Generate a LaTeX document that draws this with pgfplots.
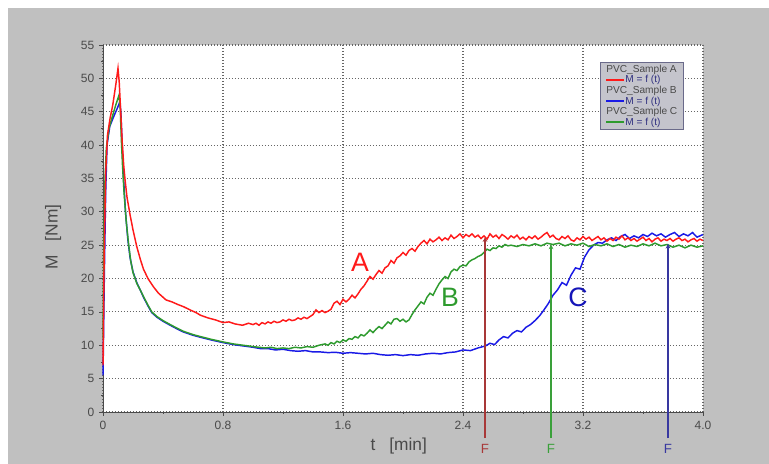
\documentclass[border=0pt]{standalone}
\usepackage{pgfplots}
\pgfplotsset{compat=1.18}
\usepackage{fontspec}
\setmainfont{Liberation Sans}
\usetikzlibrary{arrows.meta}

\definecolor{bggray}{HTML}{C0C0C0}
\definecolor{cA}{HTML}{FF1A1A}
\definecolor{cB}{HTML}{2E9B2E}
\definecolor{cC}{HTML}{1A1AE6}
\definecolor{fA}{HTML}{A83838}
\definecolor{fB}{HTML}{3AA03A}
\definecolor{fC}{HTML}{3838A0}
\definecolor{lbl}{HTML}{4A4A4A}
\definecolor{leggray}{HTML}{C4C4CC}
\definecolor{legborder}{HTML}{6A6A8A}
\definecolor{legblue}{HTML}{303080}

\begin{document}
\begin{tikzpicture}
% 1px = 0.75pt, axis box 600x367 px
\useasboundingbox (-77.25pt,-39pt) rectangle (499.5pt,309pt);
\fill[white] (-77.25pt,-39pt) rectangle (499.5pt,309pt);
\fill[bggray] (-71.25pt,-39pt) rectangle (499.5pt,303pt);
\begin{axis}[
  at={(0,0)}, anchor=south west,
  scale only axis, width=450pt, height=275.25pt,
  xmin=0, xmax=4, ymin=0, ymax=55,
  xtick={0,0.8,1.6,2.4,3.2,4.0}, xticklabels={0,0.8,1.6,2.4,3.2,4.0},
  ytick={0,5,...,55},
  minor x tick num=1, minor y tick num=1,
  axis x line*=bottom, axis y line*=left,
  axis line style={lbl, line width=0.6pt, -},
  grid=major, grid style={black!60, line width=0.85pt, dash pattern=on 0.85pt off 1.4pt},
  tick align=outside, major tick length=3pt, minor tick length=1.5pt,
  tick style={lbl, line width=0.5pt},
  tick label style={font=\fontsize{9}{10}\selectfont, text=lbl},
  /pgf/number format/assume math mode=true,
  axis background/.style={fill=white},
  clip=false,
  xlabel={t\hspace{0.8em}[min]}, ylabel={M\hspace{0.8em}[Nm]},
  label style={font=\fontsize{13}{14}\selectfont, text=lbl},
  xlabel style={at={(axis description cs:0.493,-0.093)}, anchor=center},
  ylabel style={at={(axis description cs:-0.0833,0.477)}, anchor=center},
]
% sample C
\addplot[cC, line width=1.1pt, no marks] coordinates {
(0,5.5) (0.004,12) (0.01,22) (0.018,33) (0.027,40) (0.045,42.8) (0.07,44.2) (0.095,45.5) (0.113,46.5) (0.12,44.5) (0.128,40) (0.137,35) (0.15,30) (0.165,26) (0.18,23.2) (0.2,21) (0.225,19.4) (0.25,18.2) (0.27,17.2) (0.3,15.9) (0.325,14.9) (0.36,14.2) (0.4,13.6) (0.44,13.1) (0.49,12.5) (0.535,12.0) (0.6,11.5) (0.65,11.2) (0.72,10.8) (0.8,10.4) (0.87,10.1) (0.935,9.9) (0.97,9.8)
(1.00,9.7) (1.05,9.5) (1.10,9.5) (1.15,9.3) (1.20,9.4) (1.25,9.2) (1.30,9.1) (1.35,9.2) (1.40,9.0) (1.45,9.0) (1.50,8.9) (1.55,8.95) (1.60,8.8) (1.65,8.9) (1.70,8.8) (1.75,8.7) (1.80,8.8) (1.85,8.6) (1.90,8.5) (1.95,8.6) (2.00,8.45) (2.05,8.6) (2.10,8.5) (2.15,8.7) (2.20,8.8) (2.25,8.7) (2.30,8.9) (2.35,9.0) (2.40,9.3) (2.45,9.2) (2.50,9.6) (2.55,9.9) (2.58,10.3) (2.61,10.1) (2.64,10.8) (2.67,11.3) (2.70,11.1) (2.73,11.8) (2.76,12.2) (2.79,12.0) (2.82,12.7) (2.85,13.1) (2.88,13.7) (2.91,14.4) (2.94,15.3) (2.97,16.3) (3.00,17.5) (3.03,18.3) (3.06,19.4) (3.09,19.0) (3.12,20.5) (3.15,21.6) (3.18,21.4) (3.21,23.2) (3.24,24.3) (3.27,25.0) (3.30,25.4) (3.33,25.3) (3.36,25.8) (3.39,26.1) (3.42,25.7) (3.45,26.3) (3.48,26.6) (3.51,26.0) (3.54,26.4) (3.57,26.1) (3.60,26.6) (3.63,26.3) (3.66,26.8) (3.69,26.4) (3.72,26.7) (3.75,26.2) (3.78,26.6) (3.81,26.9) (3.84,26.3) (3.87,26.7) (3.90,26.4) (3.93,26.9) (3.96,26.2) (4.00,26.6)};
% sample B
\addplot[cB, line width=1.1pt, no marks] coordinates {
(0,11) (0.005,24) (0.012,34) (0.022,39.5) (0.04,42.5) (0.065,44.5) (0.085,46) (0.107,47.5) (0.115,45.5) (0.122,41) (0.13,37) (0.14,33) (0.155,28.5) (0.17,25.3) (0.185,22.6) (0.2,20.9) (0.225,19.3) (0.25,18.2) (0.27,17.3) (0.3,16.0) (0.325,15.0) (0.36,14.3) (0.4,13.7) (0.44,13.2) (0.49,12.6) (0.535,12.1) (0.6,11.6) (0.65,11.3) (0.72,10.9) (0.8,10.5) (0.87,10.2) (0.935,10.0) (0.97,9.9)
(1.00,9.8) (1.04,9.7) (1.08,9.6) (1.12,9.7) (1.16,9.5) (1.20,9.6) (1.24,9.5) (1.28,9.7) (1.32,9.6) (1.36,9.8) (1.40,9.7) (1.44,10.0) (1.48,10.2) (1.50,10.0) (1.52,10.4) (1.54,10.2) (1.56,10.6) (1.58,10.4) (1.60,10.8) (1.62,10.6) (1.64,11.0) (1.66,10.9) (1.68,11.3) (1.70,11.1) (1.72,11.6) (1.74,11.4) (1.76,11.8) (1.78,12.3) (1.80,11.9) (1.82,12.4) (1.84,12.8) (1.86,12.5) (1.88,13.0) (1.90,13.5) (1.92,13.2) (1.94,13.9) (1.96,14.0) (1.98,13.6) (2.00,13.9) (2.02,13.5) (2.04,13.8) (2.06,14.6) (2.08,15.3) (2.10,15.9) (2.12,16.5) (2.14,16.2) (2.16,17.2) (2.18,17.8) (2.20,17.5) (2.22,18.4) (2.24,19.2) (2.26,19.8) (2.28,20.3) (2.30,20.0) (2.32,21.0) (2.34,21.4) (2.36,21.2) (2.38,21.8) (2.40,22.0) (2.42,21.9) (2.44,22.5) (2.46,22.8) (2.48,23.0) (2.50,23.3) (2.52,23.5) (2.54,23.9) (2.56,24.4) (2.58,24.2) (2.60,24.6) (2.62,24.5) (2.64,24.9) (2.66,24.7) (2.68,25.1) (2.70,24.9) (2.72,25.0) (2.76,24.8) (2.80,25.1) (2.84,24.9) (2.88,25.2) (2.92,24.9) (2.96,25.3) (3.00,25.1) (3.04,25.3) (3.08,24.9) (3.12,25.2) (3.16,25.0) (3.20,25.3) (3.24,24.8) (3.28,25.1) (3.32,24.9) (3.36,25.2) (3.40,24.8) (3.44,25.1) (3.48,24.7) (3.52,25.0) (3.56,24.8) (3.60,25.2) (3.64,24.9) (3.68,25.3) (3.72,24.9) (3.76,25.1) (3.80,24.7) (3.84,25.0) (3.88,24.6) (3.92,25.0) (3.96,24.7) (4.00,24.9)};
% sample A
\addplot[cA, line width=1.1pt, no marks] coordinates {
(0,7) (0.008,24) (0.018,36) (0.03,41.5) (0.047,44) (0.065,46) (0.085,49) (0.1,51.5) (0.108,49.5) (0.118,45) (0.128,40.5) (0.138,37) (0.147,34.8) (0.16,32.2) (0.18,29.6) (0.2,27.3) (0.225,24.8) (0.25,22.8) (0.27,21.4) (0.3,20.0) (0.335,18.8) (0.37,17.8) (0.4,17.2) (0.42,16.8) (0.46,16.5) (0.5,16.1) (0.535,15.8) (0.58,15.3) (0.62,14.9) (0.65,14.5) (0.7,14.1) (0.75,13.8) (0.8,13.4) (0.84,13.5) (0.88,13.2) (0.93,13.0) (0.97,13.3)
(1.00,13.1) (1.02,13.3) (1.04,13.0) (1.06,13.4) (1.08,13.2) (1.10,13.5) (1.12,13.3) (1.14,13.6) (1.16,13.4) (1.18,13.5) (1.20,13.8) (1.22,13.6) (1.24,13.9) (1.26,13.7) (1.28,13.8) (1.30,14.1) (1.32,13.9) (1.34,14.2) (1.36,14.0) (1.38,14.3) (1.40,14.6) (1.42,15.3) (1.44,14.9) (1.46,15.2) (1.48,14.9) (1.50,15.1) (1.52,15.4) (1.54,16.3) (1.56,16.6) (1.58,16.1) (1.60,16.9) (1.62,16.5) (1.64,16.9) (1.66,17.5) (1.68,17.1) (1.70,17.7) (1.72,18.4) (1.74,18.9) (1.76,19.6) (1.78,20.3) (1.80,19.9) (1.82,20.6) (1.84,21.2) (1.86,20.8) (1.88,21.6) (1.90,21.9) (1.92,22.7) (1.94,22.3) (1.96,23.1) (1.98,23.4) (2.00,23.9) (2.02,23.5) (2.04,24.2) (2.06,24.5) (2.08,24.1) (2.10,24.8) (2.12,25.3) (2.14,25.7) (2.16,25.2) (2.18,25.9) (2.20,25.5) (2.22,25.8) (2.24,26.2) (2.26,25.7) (2.28,26.1) (2.30,25.8) (2.32,26.5) (2.34,26.0) (2.36,26.3) (2.38,26.7) (2.40,26.1) (2.42,26.6) (2.44,26.3) (2.46,26.7) (2.48,26.2) (2.50,26.5) (2.52,26.0) (2.54,26.4) (2.56,25.9) (2.58,26.7) (2.60,26.2) (2.62,26.5) (2.64,26.0) (2.66,26.6) (2.68,26.3) (2.70,25.9) (2.72,26.4) (2.74,26.1) (2.76,26.5) (2.78,25.9) (2.80,26.2) (2.82,25.8) (2.84,26.3) (2.86,26.0) (2.88,26.4) (2.90,25.9) (2.92,26.2) (2.94,26.6) (2.96,26.9) (2.98,26.2) (3.00,26.5) (3.02,26.0) (3.04,25.8) (3.06,26.3) (3.08,26.0) (3.10,26.4) (3.12,25.8) (3.14,25.6) (3.16,26.1) (3.18,25.8) (3.20,26.3) (3.22,25.9) (3.24,26.2) (3.26,25.7) (3.28,26.0) (3.30,26.3) (3.32,25.8) (3.34,26.1) (3.36,25.6) (3.38,26.0) (3.40,25.7) (3.42,26.2) (3.44,25.9) (3.46,26.4) (3.48,25.8) (3.50,26.1) (3.52,25.7) (3.54,26.0) (3.56,25.6) (3.58,25.9) (3.60,26.2) (3.62,25.7) (3.64,26.0) (3.66,25.5) (3.68,25.9) (3.70,26.1) (3.72,25.6) (3.74,25.9) (3.76,25.7) (3.78,26.0) (3.80,25.6) (3.82,25.9) (3.84,26.1) (3.86,25.7) (3.88,25.9) (3.90,25.5) (3.92,25.8) (3.94,26.0) (3.96,25.6) (3.98,25.9) (4.00,25.7)};
% end-point markers F
\addplot[fA, line width=1pt, -{Stealth[length=3.5pt,width=3.5pt]}] coordinates {(2.547,-3.9) (2.547,26.2)};
\addplot[fB, line width=1pt, -{Stealth[length=3.5pt,width=3.5pt]}] coordinates {(2.987,-3.9) (2.987,25.1)};
\addplot[fC, line width=1pt, -{Stealth[length=3.5pt,width=3.5pt]}] coordinates {(3.767,-3.9) (3.767,25.2)};
\node[fA, font=\fontsize{10}{10}\selectfont] at (axis cs:2.547,-5.5) {F};
\node[fB, font=\fontsize{10}{10}\selectfont] at (axis cs:2.987,-5.5) {F};
\node[fC, font=\fontsize{10}{10}\selectfont] at (axis cs:3.767,-5.5) {F};
\node[cA, font=\fontsize{20}{20}\selectfont] at (axis cs:1.713,22.5) {A};
\node[cB, font=\fontsize{20}{20}\selectfont] at (axis cs:2.313,17.2) {B};
\node[cC!80!black, font=\fontsize{20}{20}\selectfont] at (axis cs:3.167,17.2) {C};
% legend box
\node[anchor=north west, fill=leggray, draw=legborder, line width=0.6pt,
      inner xsep=4.5pt, inner ysep=2pt, align=left, text=lbl,
      font=\fontsize{7.6}{7.9}\selectfont] at (axis cs:3.313,52.45) {%
PVC\_Sample A\\
\textcolor{cA}{\rule[0.45ex]{13pt}{1.2pt}}\,\textcolor{legblue}{M = f (t)}\\
PVC\_Sample B\\
\textcolor{cC}{\rule[0.45ex]{13pt}{1.2pt}}\,\textcolor{legblue}{M = f (t)}\\
PVC\_Sample C\\
\textcolor{cB}{\rule[0.45ex]{13pt}{1.2pt}}\,\textcolor{legblue}{M = f (t)}};
\end{axis}
\end{tikzpicture}
\end{document}
